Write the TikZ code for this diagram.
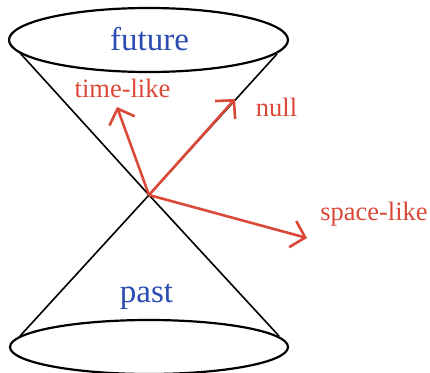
\documentclass[tikz,border=0pt]{standalone}
\usepackage{fontspec}
\setmainfont{Liberation Serif}
\usetikzlibrary{arrows.meta}
\definecolor{lblue}{RGB}{43,76,178}
\definecolor{lred}{RGB}{218,72,56}
\tikzset{
  conel/.style={line width=1.6pt, black},
  rim/.style={line width=2.2pt, black},
  vec/.style={line width=2.6pt, lred, -{Straight Barb[length=13pt,width=27pt,line width=2.6pt]}},
  region/.style={text=lblue, font=\fontsize{33}{33}\selectfont, anchor=base, inner sep=0pt},
  kind/.style={text=lred, font=\fontsize{26.5}{26.5}\selectfont, anchor=base, inner sep=0pt}
}
\begin{document}
\begin{tikzpicture}[x=1pt,y=-1pt]
\useasboundingbox (0,0) rectangle (430,372);
\coordinate (o) at (149,195);
\coordinate (tl) at (20,53);
\coordinate (tr) at (277,54);
\coordinate (bl) at (20,336);
\coordinate (br) at (279,336);
\draw[conel] (tl) -- (o) -- (br);
\draw[conel] (tr) -- (o) -- (bl);
\draw[rim] (148.5,40) ellipse [x radius=139.5, y radius=32];
\draw[rim] (149,347) ellipse [x radius=139, y radius=27];
\coordinate (tip1) at (117,107);
\coordinate (tip2) at (235,99);
\coordinate (tip3) at (307,238);
\draw[vec] (o) -- (tip1);
\draw[vec] (o) -- (tip2);
\draw[vec] (o) -- (tip3);
\node[region] (fut) at (149.5,50) {future};
\node[region] (pst) at (146.5,302) {past};
\node[kind] (tl1) at (122.5,97) {time-like};
\node[kind] (nl) at (276.5,116) {null};
\node[kind] (sl) at (374,220) {space-like};
\end{tikzpicture}
\end{document}
